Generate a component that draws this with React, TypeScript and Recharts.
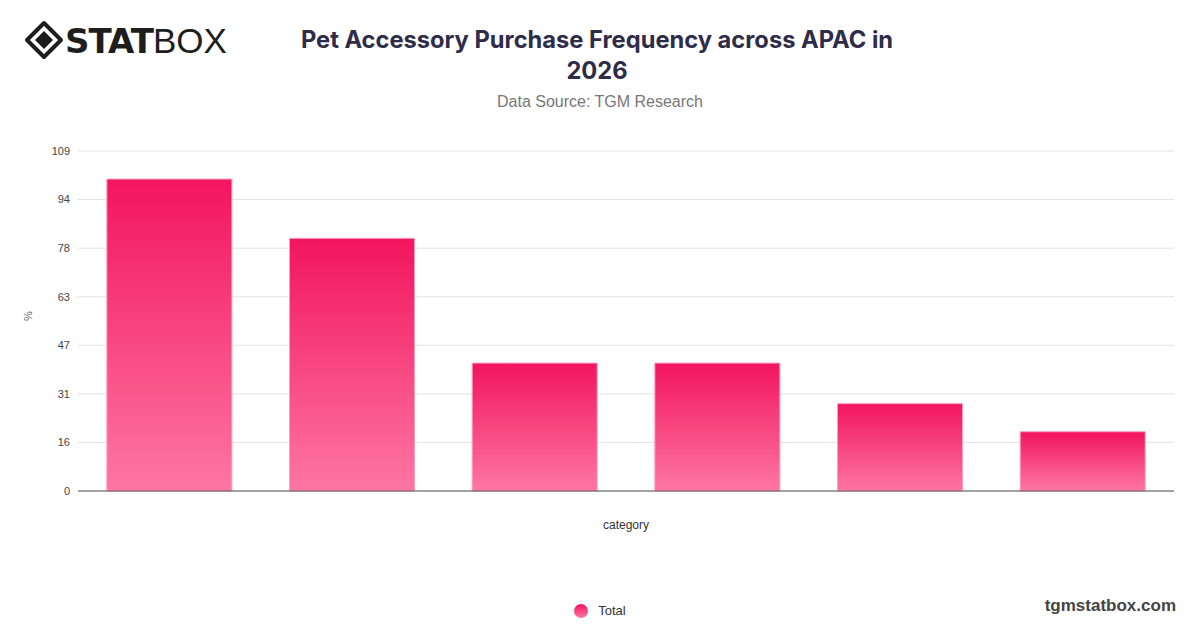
import { BarChart, Bar, XAxis, YAxis, CartesianGrid, Legend } from 'recharts'

const categories = ['A', 'B', 'C', 'D', 'E', 'F']
const totals = [100, 81, 41, 41, 28, 19]
const tickValues = [0, 16, 31, 47, 63, 78, 94, 109]
const tickLabels = ['0', '16', '31', '47', '63', '78', '94', '109']

const Y_MAX = 109
const data = categories.map((c, i) => ({ category: c, Total: totals[i] }))
// ticks sit evenly spaced, labels are the rounded ones the source shows
const tickPositions = tickValues.map((_, i) => (Y_MAX * i) / (tickValues.length - 1))

const SANS = '"Liberation Sans", Arial, Helvetica, sans-serif'

function Logo() {
  return (
    <svg width={230} height={60} style={{ position: 'absolute', left: 20, top: 10 }}>
      <g transform="translate(24,30)">
        <path d="M0,-17 L17,0 L0,17 L-17,0 Z" fill="none" stroke="#1e1e1e" strokeWidth={4} strokeLinejoin="round" />
        <path d="M0,-9 L9,0 L0,9 L-9,0 Z" fill="#1e1e1e" />
      </g>
      <text x={45} y={43} fontFamily='"DejaVu Sans", sans-serif' fontSize={34} fill="#1e1e1e">
        <tspan fontWeight={900} letterSpacing={-1}>STAT</tspan>
        <tspan fontWeight={300} fontFamily='"Liberation Sans", sans-serif' fontSize={35}>BOX</tspan>
      </text>
    </svg>
  )
}

function LegendContent() {
  return (
    <div style={{ display: 'flex', alignItems: 'center', justifyContent: 'center', fontFamily: SANS, fontSize: 13, color: '#333' }}>
      <span style={{ width: 14, height: 14, borderRadius: 7, background: 'linear-gradient(#f2155f, #fd76a3)', marginRight: 10 }} />
      Total
    </div>
  )
}

export default function App() {
  return (
    <div style={{ position: 'absolute', left: 0, top: 0, width: 1200, height: 628, background: '#fff', overflow: 'hidden' }}>
      <Logo />
      <div
        style={{
          position: 'absolute', left: 247, top: 24, width: 700, textAlign: 'center',
          fontFamily: 'Inter, sans-serif', fontWeight: 700, fontSize: 23.7, lineHeight: '31px', color: '#2e2c48',
        }}
      >
        Pet Accessory Purchase Frequency across APAC in
        <br />
        2026
      </div>
      <div style={{ position: 'absolute', left: 300, top: 93, width: 600, textAlign: 'center', fontFamily: SANS, fontSize: 16, color: '#777' }}>
        Data Source: TGM Research
      </div>
      <div style={{ position: 'absolute', right: 24, top: 596, fontFamily: SANS, fontWeight: 700, fontSize: 17, color: '#444' }}>
        tgmstatbox.com
      </div>

      <BarChart
        width={1200}
        height={628}
        data={data}
        margin={{ top: 151, right: 26, bottom: 101, left: 20 }}
        barCategoryGap="15.8%"
        style={{ position: 'absolute', left: 0, top: 0 }}
      >
        <defs>
          <linearGradient id="barFill" x1="0" y1="0" x2="0" y2="1">
            <stop offset="0%" stopColor="#f2155f" />
            <stop offset="100%" stopColor="#fd76a3" />
          </linearGradient>
        </defs>
        <CartesianGrid vertical={false} stroke="#e2e2e2" />
        <XAxis
          dataKey="category"
          tick={false}
          tickLine={false}
          axisLine={{ stroke: '#555' }}
          height={20}
          label={{ value: 'category', position: 'bottom', offset: 9, fill: '#333', fontSize: 12, fontFamily: SANS }}
        />
        <YAxis
          width={58}
          domain={[0, Y_MAX]}
          ticks={tickPositions}
          tickFormatter={(_v, i) => tickLabels[i]}
          tickLine={false}
          axisLine={false}
          tick={{ fill: '#444', fontSize: 11, fontFamily: SANS }}
          label={{ value: '%', angle: -90, position: 'insideLeft', offset: 8, fill: '#666', fontSize: 11, fontFamily: SANS }}
        />
        <Legend
          content={<LegendContent />}
          wrapperStyle={{ position: 'absolute', left: 0, top: 603, width: 1200, height: 16 }}
        />
        <Bar dataKey="Total" fill="url(#barFill)" stroke="#ff9cc0" strokeWidth={1} isAnimationActive={false} />
      </BarChart>
    </div>
  )
}
